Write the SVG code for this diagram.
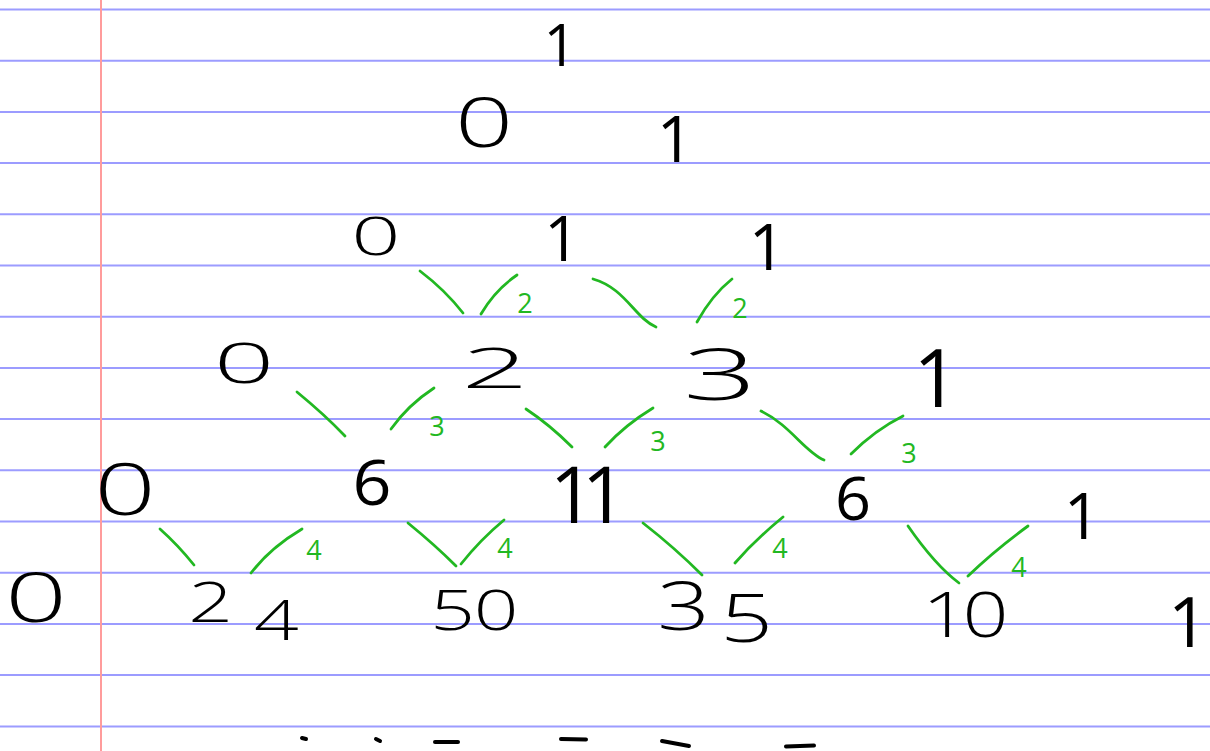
<svg xmlns="http://www.w3.org/2000/svg" width="1210" height="751" viewBox="0 0 1210 751">
<style>
.rule{stroke:#9c9cff;stroke-width:2}
.margin{stroke:#ff9c9c;stroke-width:2}
.num{font-family:"Open Sans","Liberation Sans",sans-serif;font-weight:400;fill:#000;text-anchor:middle}
.thin{font-weight:350}
.lbl{font-family:"Open Sans","Liberation Sans",sans-serif;fill:#22b822;text-anchor:middle;font-size:27px}
.con{fill:none;stroke:#22b822;stroke-width:2.8;stroke-linecap:round}
.mark{fill:none;stroke:#000;stroke-width:4;stroke-linecap:round}
</style>
<rect width="1210" height="751" fill="#fff"/>
<g id="paper">
<line class="rule" x1="0" y1="9.5" x2="1210" y2="9.5"/>
<line class="rule" x1="0" y1="60.7" x2="1210" y2="60.7"/>
<line class="rule" x1="0" y1="111.9" x2="1210" y2="111.9"/>
<line class="rule" x1="0" y1="163.1" x2="1210" y2="163.1"/>
<line class="rule" x1="0" y1="214.3" x2="1210" y2="214.3"/>
<line class="rule" x1="0" y1="265.5" x2="1210" y2="265.5"/>
<line class="rule" x1="0" y1="316.7" x2="1210" y2="316.7"/>
<line class="rule" x1="0" y1="367.9" x2="1210" y2="367.9"/>
<line class="rule" x1="0" y1="419.1" x2="1210" y2="419.1"/>
<line class="rule" x1="0" y1="470.3" x2="1210" y2="470.3"/>
<line class="rule" x1="0" y1="521.5" x2="1210" y2="521.5"/>
<line class="rule" x1="0" y1="572.7" x2="1210" y2="572.7"/>
<line class="rule" x1="0" y1="623.9" x2="1210" y2="623.9"/>
<line class="rule" x1="0" y1="675.1" x2="1210" y2="675.1"/>
<line class="rule" x1="0" y1="726.5" x2="1210" y2="726.5"/>
<line class="margin" x1="101" y1="0" x2="101" y2="751"/>
</g>
<g id="connectors">
<path class="con" d="M420,271 Q445,290 463,313"/>
<path class="con" d="M517,275 Q495,290 481,314"/>
<path class="con" d="M593,279 C625,288 635,318 656,327"/>
<path class="con" d="M732,279 Q712,295 697,322"/>
<path class="con" d="M297,392 Q325,415 345,436"/>
<path class="con" d="M434,388 Q408,405 391,429"/>
<path class="con" d="M526,409 Q550,425 572,447"/>
<path class="con" d="M653,408 Q625,425 605,447"/>
<path class="con" d="M761,411 C790,425 805,452 824,460"/>
<path class="con" d="M903,416 Q875,430 851,454"/>
<path class="con" d="M160,529 Q178,545 194,565"/>
<path class="con" d="M302,529 Q270,548 251,573"/>
<path class="con" d="M408,523 Q435,545 456,566"/>
<path class="con" d="M504,520 Q480,540 461,564"/>
<path class="con" d="M643,523 Q675,548 702,575"/>
<path class="con" d="M783,517 Q755,540 735,563"/>
<path class="con" d="M908,526 Q935,565 959,583"/>
<path class="con" d="M1028,526 Q995,550 968,576"/>
<text class="lbl" x="525" y="313">2</text>
<text class="lbl" x="740" y="318">2</text>
<text class="lbl" x="437" y="436">3</text>
<text class="lbl" x="658" y="451">3</text>
<text class="lbl" x="909" y="463">3</text>
<text class="lbl" x="314" y="560">4</text>
<text class="lbl" x="505" y="558">4</text>
<text class="lbl" x="780" y="558">4</text>
<text class="lbl" x="1019" y="577">4</text>
</g>
<g id="n0_0"><text class="num" x="560" y="66" font-size="58">1</text></g>
<g id="n1_0"><text class="num thin" transform="translate(484,147) scale(1.5,1)" font-size="68">0</text></g>
<g id="n1_1"><text class="num" x="675" y="162" font-size="64">1</text></g>
<g id="n2_0"><text class="num thin" transform="translate(376,255) scale(1.6,1)" font-size="54">0</text></g>
<g id="n2_1"><text class="num" x="562" y="261" font-size="62">1</text></g>
<g id="n2_2"><text class="num" x="767" y="270" font-size="64">1</text></g>
<g id="n3_0"><text class="num thin" transform="translate(244,383) scale(1.9,1)" font-size="56">0</text></g>
<g id="n3_1"><text class="num thin" transform="translate(495,388) scale(2.1,1)" font-size="56">2</text></g>
<g id="n3_2"><text class="num thin" transform="translate(720,400) scale(1.8,1)" font-size="72">3</text></g>
<g id="n3_3"><text class="num" x="936" y="407" font-size="80">1</text></g>
<g id="n4_0"><text class="num thin" transform="translate(125,515) scale(1.5,1)" font-size="72">0</text></g>
<g id="n4_1"><text class="num" transform="translate(372,505) scale(1.1,1)" font-size="62">6</text></g>
<g id="n4_2"><text class="num" x="572 604" y="523" font-size="78">11</text></g>
<g id="n4_3"><text class="num" transform="translate(853,520) scale(1.05,1)" font-size="60">6</text></g>
<g id="n4_4"><text class="num" x="1082" y="539" font-size="64">1</text></g>
<g id="n5_0"><text class="num thin" transform="translate(36,622) scale(1.6,1)" font-size="68">0</text></g>
<g id="n5_1"><text class="num thin" transform="translate(240,0) scale(1.4,1)" x="-21 26" y="622 640" font-size="56">24</text></g>
<g id="n5_2"><text class="num thin" transform="translate(475,0) scale(1.4,1)" x="-16 15" y="630" font-size="56">50</text></g>
<g id="n5_3"><text class="num thin" transform="translate(720,0) scale(1.4,1)" x="-26 19" y="630 642" font-size="66">35</text></g>
<g id="n5_4"><text class="num thin" transform="translate(970,0) scale(1.3,1)" x="-19 12" y="637" font-size="62">10</text></g>
<g id="n5_5"><text class="num" x="1188" y="647" font-size="70">1</text></g>
<g id="marks">
<path class="mark" d="M302,738 L306,739"/>
<path class="mark" d="M376,739 L380,741"/>
<path class="mark" d="M435,742 L458,742"/>
<path class="mark" d="M561,739 L586,739.5"/>
<path class="mark" d="M662,741 L689,746"/>
<path class="mark" d="M786,746.5 L814,745.5"/>
</g>
</svg>
